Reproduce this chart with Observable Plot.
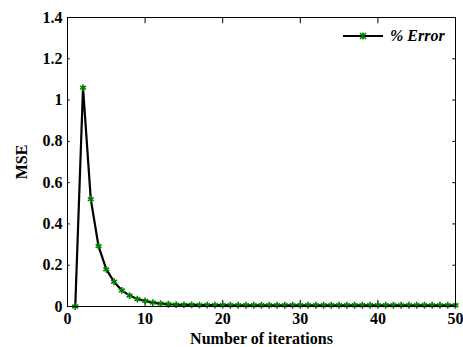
<!DOCTYPE html>
<html><head><meta charset="utf-8">
<script src="https://cdn.jsdelivr.net/npm/d3@7"></script>
<script src="https://cdn.jsdelivr.net/npm/@observablehq/plot@0.6"></script>
<style>
body{margin:0;background:#fff;}
#wrap{position:relative;width:463px;height:347px;font-family:"Liberation Serif","Times New Roman",serif;}
#legend{position:absolute;left:342px;top:27px;display:flex;align-items:center;font-weight:bold;font-style:italic;font-size:16px;}
</style>
</head><body>
<div id="wrap"><div id="legend"><svg width="44" height="16"><line x1="1" y1="8" x2="41" y2="8" stroke="black" stroke-width="2"/><path d="M18,5L24,11M24,5L18,11M21,4.5V11.5" stroke="green" stroke-width="1.6"/></svg><span style="margin-left:4px">% Error</span></div></div>
<script>
const iterations = d3.range(1, 51);
const mse = [0, 1.06, 0.52, 0.292, 0.18, 0.12, 0.078, 0.053, 0.036, 0.027,
  0.019, 0.014, 0.011, 0.009, 0.008, 0.008, 0.007, 0.007, 0.007, 0.007,
  0.006, 0.006, 0.006, 0.006, 0.006, 0.006, 0.006, 0.006, 0.006, 0.006,
  0.006, 0.006, 0.006, 0.006, 0.006, 0.006, 0.006, 0.006, 0.006, 0.006,
  0.006, 0.006, 0.006, 0.006, 0.006, 0.006, 0.006, 0.006, 0.006, 0.006];
const xTicks = [0, 10, 20, 30, 40, 50];
const yTicks = [0, 0.2, 0.4, 0.6, 0.8, 1, 1.2, 1.4];
const data = iterations.map((x, i) => ({x, y: mse[i]}));

const tickLenX = 0.03;  // data units on y
const tickLenY = 0.35;  // data units on x

const chart = Plot.plot({
  width: 463, height: 347,
  marginLeft: 67, marginRight: 8, marginTop: 17, marginBottom: 41,
  style: {fontFamily: '"Liberation Serif","Times New Roman",serif', fontSize: "16px", fontWeight: "bold", color: "black", background: "white"},
  x: {domain: [0, 50]},
  y: {domain: [0, 1.4]},
  marks: [
    Plot.ruleX(xTicks, {x: d => d, y1: 0, y2: tickLenX, stroke: "black"}),
    Plot.ruleX(xTicks, {x: d => d, y1: 1.4, y2: 1.4 - tickLenX, stroke: "black"}),
    Plot.ruleY(yTicks, {y: d => d, x1: 0, x2: tickLenY, stroke: "black"}),
    Plot.ruleY(yTicks, {y: d => d, x1: 50, x2: 50 - tickLenY, stroke: "black"}),
    Plot.axisX(xTicks, {tickSize: 0, tickPadding: 6, label: "Number of iterations", labelArrow: "none", labelAnchor: "center", labelOffset: 37, fontSize: 16, fontWeight: "bold"}),
    Plot.axisY(yTicks, {tickSize: 0, tickPadding: 5, tickFormat: d => String(+d.toFixed(1)), label: "MSE", labelArrow: "none", labelAnchor: "center", labelOffset: 52, fontSize: 16, fontWeight: "bold"}),
    Plot.line(data, {x: "x", y: "y", stroke: "black", strokeWidth: 2.2}),
    Plot.dot(data, {x: "x", y: "y", symbol: "asterisk", stroke: "green", r: 3.2, strokeWidth: 1.6}),
    Plot.frame({stroke: "black"})
  ]
});
document.getElementById("wrap").prepend(chart);
</script>
</body></html>
